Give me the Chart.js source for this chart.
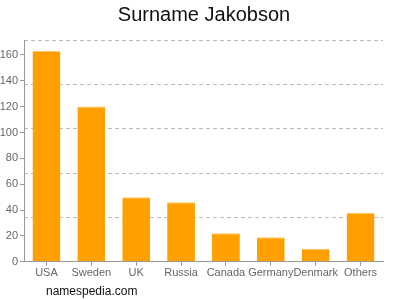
<!DOCTYPE html>
<html>
<head>
<meta charset="utf-8">
<script src="https://cdn.jsdelivr.net/npm/chart.js@4/dist/chart.umd.min.js"></script>
<style>
  html, body { margin: 0; padding: 0; background: #fff; }
  #wrap { width: 400px; height: 300px; }
</style>
</head>
<body>
<div id="wrap"><canvas id="chart" width="400" height="300"></canvas></div>
<script>
const countries = ['USA', 'Sweden', 'UK', 'Russia', 'Canada', 'Germany', 'Denmark', 'Others'];
const counts = [163, 120, 50, 46, 22, 19, 10, 38];
const yMax = 171.5;
const yStep = 20;
const gridStep = yMax / 5;

const font = "'Liberation Sans', Arial, sans-serif";

// title on top and site name under the chart
const pageText = {
    id: 'pageText',
    afterDraw(chart) {
        const ctx = chart.ctx;
        ctx.save();
        ctx.textBaseline = 'middle';
        ctx.fillStyle = '#111';
        ctx.font = '20px ' + font;
        ctx.textAlign = 'center';
        ctx.fillText('Surname Jakobson', 204, 15);
        ctx.font = '12px ' + font;
        ctx.textAlign = 'left';
        ctx.fillText('namespedia.com', 46, 292);
        ctx.restore();
    }
};

new Chart(document.getElementById('chart'), {
    type: 'bar',
    data: {
        labels: countries,
        datasets: [{
            data: counts,
            backgroundColor: '#ffa000',
            borderColor: '#ffc766',
            borderWidth: { top: 1, left: 0, right: 0, bottom: 0 },
            borderSkipped: 'bottom',
            categoryPercentage: 0.62,
            barPercentage: 1
        }]
    },
    options: {
        responsive: false,
        animation: false,
        layout: { padding: { left: 0, right: 17, top: 40, bottom: 19 } },
        plugins: {
            legend: { display: false },
            tooltip: { enabled: false }
        },
        scales: {
            x: {
                grid: { display: true, drawOnChartArea: false, offset: false, tickLength: 4, color: '#999' },
                border: { color: '#999' },
                ticks: { color: '#666', font: { family: font, size: 11 }, padding: 1, maxRotation: 0, autoSkip: false }
            },
            y: {
                min: 0,
                max: yMax,
                grid: { display: true, drawOnChartArea: false, tickLength: 4, color: '#999' },
                border: { color: '#999' },
                ticks: { stepSize: yStep, includeBounds: false, color: '#666', font: { family: font, size: 11 }, padding: 2 },
                afterFit(scale) { scale.width = 24; }
            },
            y2: {
                position: 'left',
                min: 0,
                max: yMax,
                grid: { color: '#bbb', drawTicks: false },
                border: { display: false, dash: [4, 3] },
                ticks: { display: false, stepSize: gridStep },
                afterFit(scale) { scale.width = 0; }
            }
        }
    },
    plugins: [pageText]
});
</script>
</body>
</html>
